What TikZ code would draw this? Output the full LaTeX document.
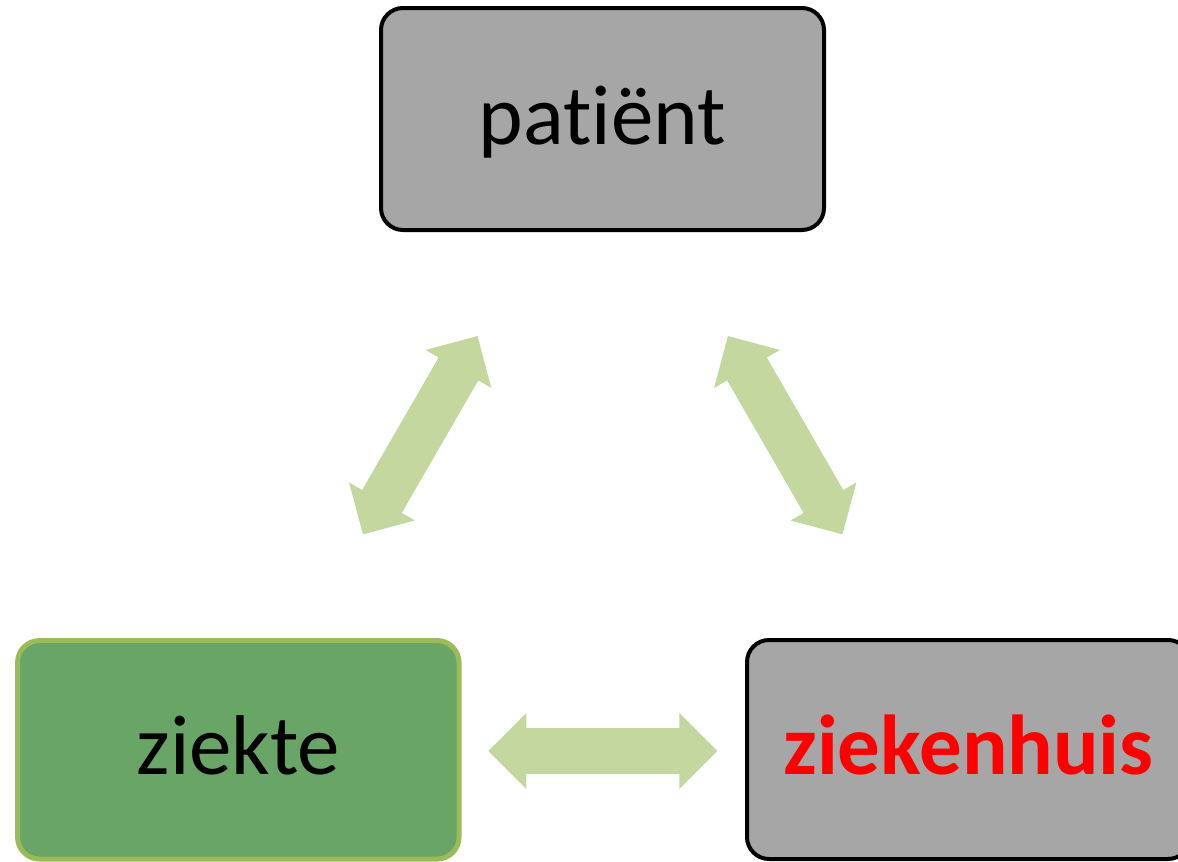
\documentclass[tikz,border=0pt]{standalone}
\usepackage{fontspec}
\setmainfont{Carlito}[Ligatures={NoCommon}]
\definecolor{boxgrey}{HTML}{A6A6A6}
\definecolor{boxgreen}{HTML}{68A567}
\definecolor{edgegreen}{HTML}{9BBB59}
\definecolor{arrowgreen}{HTML}{C4D79F}
\definecolor{textred}{HTML}{FF0000}
\tikzset{
  basebox/.style={rectangle, rounded corners=22pt, minimum width=443pt, minimum height=222pt,
    inner sep=0pt, text height=50pt, text depth=0pt, font=\fontsize{85}{85}\selectfont},
  greybox/.style={basebox, draw=black, line width=4pt, fill=boxgrey},
  greenbox/.style={basebox, draw=edgegreen, line width=5pt, fill=boxgreen},
  dblarrow/.pic={\fill[arrowgreen] (-114.5,0) -- (-76.5,-38) -- (-76.5,-22.9) -- (76.5,-22.9)
      -- (76.5,-38) -- (114.5,0) -- (76.5,38) -- (76.5,22.9) -- (-76.5,22.9) -- (-76.5,38) -- cycle;}
}
\begin{document}
\begin{tikzpicture}[x=1pt,y=-1pt]
\useasboundingbox (0,0) rectangle (1178,862);
\begin{scope}
\clip (0,0) rectangle (1178,862);
\node[greybox] (patient) at (602.5,119) {pat\kern0pt iënt};
\node[greenbox, minimum width=441.5pt, minimum height=218.5pt] (ziekte) at (238.3,749.8) {ziekte};
\node[greybox, minimum height=219pt, text=textred, font=\fontsize{85}{85}\selectfont\bfseries] (ziekenhuis) at (968.5,749.5) {ziekenhuis};
\end{scope}
\pic[rotate=60] (leftarrow) at (420.2,435.2) {dblarrow};
\pic[rotate=-60] (rightarrow) at (785.2,435.2) {dblarrow};
\pic (bottomarrow) at (602.8,751) {dblarrow};
\end{tikzpicture}
\end{document}
